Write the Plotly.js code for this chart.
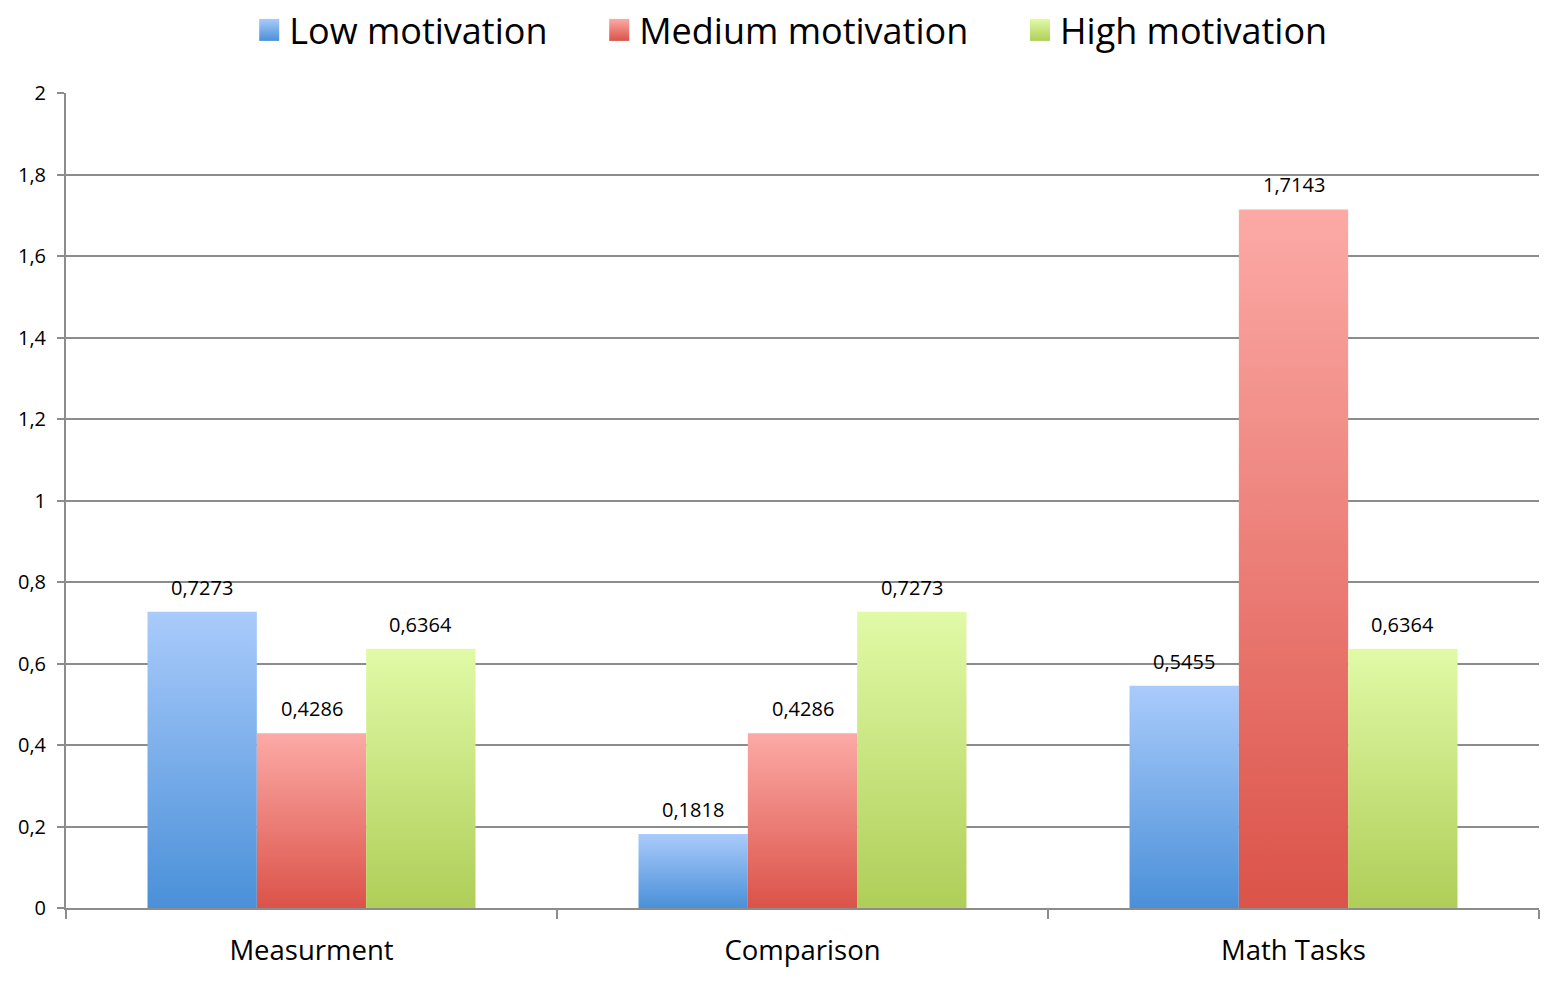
<!DOCTYPE html>
<html>
<head>
<meta charset="utf-8">
<script src="https://cdn.plot.ly/plotly-3.0.1.min.js"></script>
<style>
html,body{margin:0;padding:0;background:#fff;}
#chart{width:1559px;height:984px;}
</style>
</head>
<body>
<div id="chart"></div>
<script>
var categories = ['Measurment', 'Comparison', 'Math Tasks'];
var seriesNames = ['Low motivation', 'Medium motivation', 'High motivation'];
var lowValues = [0.7273, 0.1818, 0.5455];
var mediumValues = [0.4286, 0.4286, 1.7143];
var highValues = [0.6364, 0.7273, 0.6364];
var yTickValues = [0, 0.2, 0.4, 0.6, 0.8, 1, 1.2, 1.4, 1.6, 1.8, 2];

var gradients = [
  {id: 'gLow', top: '#aacbfb', bottom: '#4a90d8', mid: '#7aaee9'},
  {id: 'gMed', top: '#fcaaa6', bottom: '#db5349', mid: '#ee7f78'},
  {id: 'gHigh', top: '#e1faa7', bottom: '#afce58', mid: '#c9e37f'}
];

var W = 1559, H = 984;
var M = {l: 66, r: 20, t: 93, b: 76};
var BARGAP = 0.332;
var nSeries = 3;
var catPx = (W - M.l - M.r) / categories.length;
var barPx = catPx * (1 - BARGAP) / nSeries;

var valueSets = [lowValues, mediumValues, highValues];
var legendPad = '\u00a0\u00a0\u00a0\u00a0\u00a0';
var traces = valueSets.map(function (vals, i) {
  return {
    type: 'bar',
    name: seriesNames[i] + (i < nSeries - 1 ? legendPad : ''),
    x: categories,
    y: vals,
    marker: {color: gradients[i].mid, line: {width: 0}},
    hoverinfo: 'x+y'
  };
});

var annotations = [];
valueSets.forEach(function (vals, i) {
  vals.forEach(function (v, j) {
    annotations.push({
      x: categories[j],
      y: v,
      xref: 'x', yref: 'y',
      text: v.toFixed(4).replace('.', ','),
      showarrow: false,
      xanchor: 'center',
      yanchor: 'bottom',
      xshift: (i - (nSeries - 1) / 2) * barPx,
      yshift: 9,
      font: {family: 'Open Sans', size: 20, color: '#000'}
    });
  });
});

var layout = {
  width: W,
  height: H,
  margin: M,
  paper_bgcolor: '#fff',
  plot_bgcolor: '#fff',
  separators: ',.',
  barmode: 'group',
  bargap: BARGAP,
  bargroupgap: 0,
  font: {family: 'Open Sans', color: '#000'},
  showlegend: true,
  legend: {
    orientation: 'h',
    x: 0.492, xanchor: 'center',
    y: 1, yref: 'container', yanchor: 'top',
    font: {family: 'Open Sans', size: 36, color: '#000'},
    itemwidth: 30,
    traceorder: 'normal'
  },
  annotations: annotations,
  xaxis: {
    type: 'category',
    tickson: 'boundaries',
    ticks: 'outside',
    ticklen: 9,
    tickwidth: 2,
    tickcolor: '#8c8c8c',
    showline: true,
    linecolor: '#8c8c8c',
    linewidth: 2,
    showgrid: false,
    tickfont: {family: 'Open Sans', size: 27.5, color: '#000'},
    ticklabelstandoff: 17
  },
  yaxis: {
    range: [0, 2],
    tickvals: yTickValues,
    ticks: 'outside',
    ticklen: 7,
    tickwidth: 2,
    tickcolor: '#8c8c8c',
    showline: true,
    linecolor: '#8c8c8c',
    linewidth: 2,
    showgrid: true,
    gridcolor: '#8c8c8c',
    gridwidth: 2,
    zeroline: false,
    ticklabelstandoff: 7,
    tickfont: {family: 'Open Sans', size: 20, color: '#000'}
  }
};

function applyGradients(gd) {
  var svg = gd.querySelector('svg.main-svg');
  if (!svg) return;
  var ns = 'http://www.w3.org/2000/svg';
  var defs = svg.querySelector('defs') || svg.insertBefore(document.createElementNS(ns, 'defs'), svg.firstChild);
  gradients.forEach(function (g) {
    var lg = document.createElementNS(ns, 'linearGradient');
    lg.setAttribute('id', g.id);
    lg.setAttribute('x1', '0'); lg.setAttribute('y1', '0');
    lg.setAttribute('x2', '0'); lg.setAttribute('y2', '1');
    var s1 = document.createElementNS(ns, 'stop');
    s1.setAttribute('offset', '0'); s1.setAttribute('stop-color', g.top);
    var s2 = document.createElementNS(ns, 'stop');
    s2.setAttribute('offset', '1'); s2.setAttribute('stop-color', g.bottom);
    lg.appendChild(s1); lg.appendChild(s2);
    defs.appendChild(lg);
  });
  gd.querySelectorAll('.barlayer .trace').forEach(function (t, i) {
    t.querySelectorAll('.point path').forEach(function (p) {
      p.style.fill = 'url(#' + gradients[i].id + ')';
    });
  });
  gd.querySelectorAll('.legend .traces').forEach(function (t, i) {
    t.querySelectorAll('.legendpoints path').forEach(function (p) {
      p.setAttribute('d', 'M10,11H-10V-11H10Z');
      p.style.fill = 'url(#' + gradients[i].id + ')';
    });
  });
}

Plotly.newPlot('chart', traces, layout, {displayModeBar: false, staticPlot: true}).then(function (gd) {
  applyGradients(gd);
});
</script>
</body>
</html>
